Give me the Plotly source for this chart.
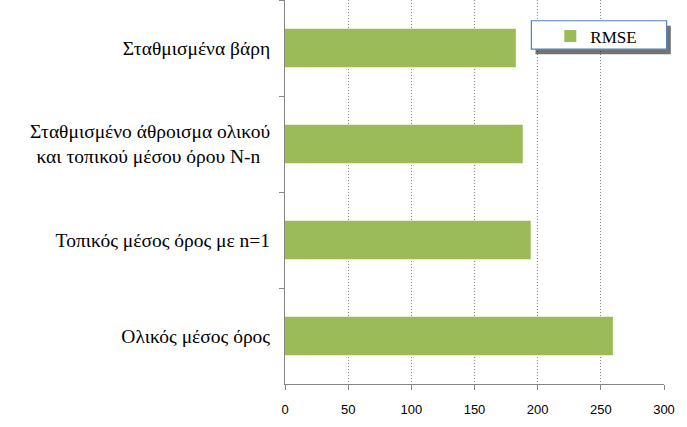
import plotly.graph_objects as go

categories = [
    "Σταθμισμένα βάρη",
    "Σταθμισμένο άθροισμα ολικού<br>και τοπικού μέσου όρου N-n\u00a0\u00a0",
    "Τοπικός μέσος όρος με n=1",
    "Ολικός μέσος όρος",
]
rmse = [182.7, 188.2, 194.5, 259.5]
series_name = "RMSE"
x_ticks = [0, 50, 100, 150, 200, 250, 300]

SERIF = "Liberation Serif"

fig = go.Figure()
fig.add_trace(go.Bar(
    y=categories, x=rmse, orientation="h", name=series_name,
    marker=dict(color="#9BBB59", line=dict(width=0)),
    showlegend=True,
))

# legend box with shadow
fig.add_shape(type="rect", xref="paper", yref="paper",
              x0=0.661, x1=1.018, y0=0.859, y1=0.933,
              fillcolor="rgba(0,0,0,0.55)", line=dict(width=0), layer="above")
fig.add_shape(type="rect", xref="paper", yref="paper",
              x0=0.650, x1=1.007, y0=0.872, y1=0.946,
              fillcolor="white", line=dict(color="#4F81BD", width=1.2), layer="above")

fig.update_layout(
    width=687, height=427,
    margin=dict(l=285, r=23, t=0, b=43),
    plot_bgcolor="white", paper_bgcolor="white",
    bargap=0.6,
    showlegend=True,
    legend=dict(x=0.70, y=0.952, xanchor="left", yanchor="top",
                bgcolor="rgba(0,0,0,0)", borderwidth=0,
                font=dict(family=SERIF, size=17, color="black")),
    xaxis=dict(range=[0, 300], tickvals=x_ticks, ticktext=[str(v) for v in x_ticks],
               showgrid=True, gridcolor="#868686", griddash="1px,2px", gridwidth=1,
               showline=True, linecolor="#868686", linewidth=1,
               ticks="outside", ticklen=5, tickcolor="#868686",
               zeroline=False, ticklabelstandoff=8, automargin=False,
               tickfont=dict(family="Liberation Sans", size=13, color="black")),
    yaxis=dict(autorange="reversed", showline=True, linecolor="#868686", linewidth=1,
               ticks="outside", ticklen=5, tickcolor="#868686", tickson="boundaries",
               showgrid=False, ticklabelstandoff=10, automargin=False,
               tickfont=dict(family=SERIF, size=19.5, color="black")),
)

fig.write_html("out.html", post_script="document.body.style.margin='0';",
               config={"displayModeBar": False})
